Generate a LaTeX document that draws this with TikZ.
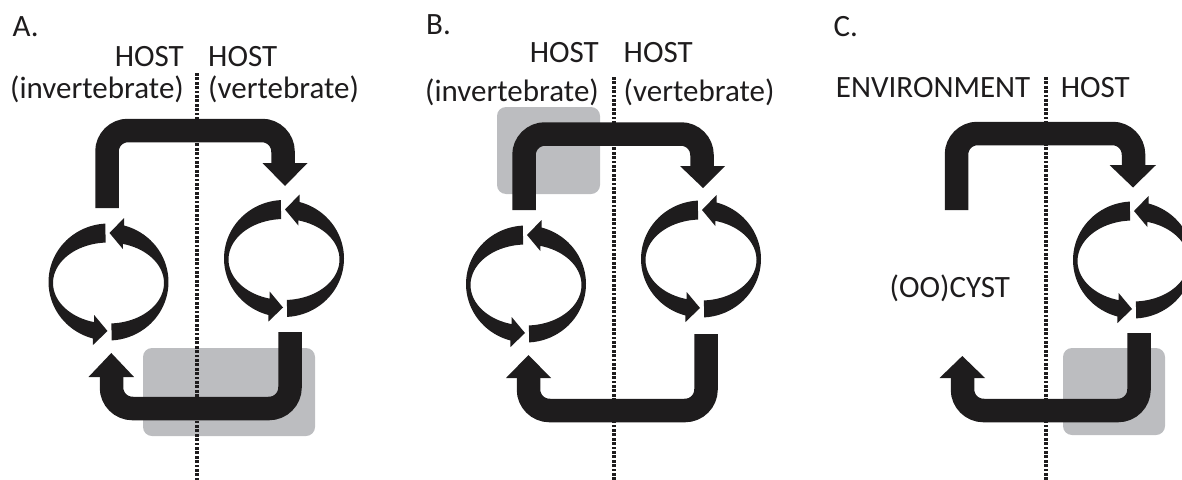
\documentclass[tikz,border=0pt]{standalone}
\usepackage{fontspec}
\setmainfont{Carlito}
\definecolor{boxgray}{RGB}{188,189,192}
\definecolor{ink}{RGB}{30,28,29}
\tikzset{
  lbl/.style={inner sep=0pt, text=ink, font=\fontsize{31}{36}\selectfont},
  bigarrow/.style={draw=ink, line width=23.5pt, rounded corners=21pt},
  headfill/.style={fill=ink},
  dotsq/.style={fill=ink},
  hilite/.style={fill=boxgray, rounded corners=9pt},
  cyc/.pic={
    % arrow running bottom -> right -> top (head at top, pointing left)
    \fill[ink] plot[domain=87:-75,samples=40] ({60*cos(\x)},{58.5*sin(\x)})
      -- ({60*cos(-75)},{-64})
      -- ({1},{-49})
      -- ({55.5*cos(-75)},{-33})
      -- plot[domain=-75:87,samples=40] ({55.5*cos(\x)},{40.5*sin(\x)+1})
      -- cycle;
    % arrow running top -> left -> bottom (head at bottom, pointing right)
    \fill[ink] plot[domain=-93:-255,samples=40] ({60*cos(\x)},{58.5*sin(\x)})
      -- ({60*cos(105)},{63})
      -- ({-1},{49})
      -- ({55.5*cos(105)},{33})
      -- plot[domain=-255:-93,samples=40] ({55.5*cos(\x)},{40.5*sin(\x)+1})
      -- cycle;
  },
  divider/.pic={
    \foreach \k in {0,...,95} {
      \fill[dotsq] (-1.6,{\k*4.4}) rectangle ++(3.2,2.8);
    }
  }
}
\begin{document}
\begin{tikzpicture}[x=1pt,y=-1pt]
\useasboundingbox (0,0) rectangle (1182,479);
\clip (0,0) rectangle (1182,479);

% ---------------- highlight boxes
\fill[hilite] (143,348) rectangle (315,436);
\fill[hilite] (497,107) rectangle (600,194);
\fill[hilite] (1063,348) rectangle (1165,435);

% ---------------- dotted dividers
\pic at (197,73) {divider};
\pic at (614,77) {divider};
\pic at (1046,77) {divider};

% ---------------- texts
\node[lbl, anchor=base west] (labA) at (12.5,36) {A.};
\node[lbl, anchor=base east] (hostAl) at (184,66) {HOST};
\node[lbl, anchor=base east] (invA) at (184,98) {(invertebrate)};
\node[lbl, anchor=base west] (hostAr) at (208,66) {HOST};
\node[lbl, anchor=base west] (vertA) at (208,98) {(vertebrate)};

\node[lbl, anchor=base west] (labB) at (426,34) {B.};
\node[lbl, anchor=base east] (hostBl) at (599,62) {HOST};
\node[lbl, anchor=base east] (invB) at (599,101) {(invertebrate)};
\node[lbl, anchor=base west] (hostBr) at (623.5,62) {HOST};
\node[lbl, anchor=base west] (vertB) at (623.5,101) {(vertebrate)};

\node[lbl, anchor=base west] (labC) at (833.5,36.5) {C.};
\node[lbl, anchor=base east] (envC) at (1030.5,97) {ENVIRONMENT};
\node[lbl, anchor=base west] (hostC) at (1060.6,97) {HOST};
\node[lbl, anchor=base west] (cystC) at (889.5,297) {(OO)CYST};

% ---------------- cycles
\pic at (108.5,282) {cyc};
\pic at (284,258.5) {cyc};
\pic at (526,284) {cyc};
\pic at (701,259) {cyc};
\pic at (1133,260) {cyc};

% ---------------- panel A arrows
\coordinate (aT0) at (107,208);
\coordinate (aT1) at (107,130.5);
\coordinate (aT2) at (283,130.5);
\coordinate (aT3) at (283,164);
\draw[bigarrow] (aT0) -- (aT1) -- (aT2) -- (aT3);
\fill[headfill] (262.5,163) -- (307.5,163) -- (285,186) -- cycle;

\coordinate (aB0) at (290,332);
\coordinate (aB1) at (290,408.5);
\coordinate (aB2) at (111.5,408.5);
\coordinate (aB3) at (111.5,376);
\draw[bigarrow] (aB0) -- (aB1) -- (aB2) -- (aB3);
\fill[headfill] (88.5,377) -- (134,377) -- (111.3,353) -- cycle;

% ---------------- panel B arrows
\coordinate (bT0) at (524,210);
\coordinate (bT1) at (524,134);
\coordinate (bT2) at (702,134);
\coordinate (bT3) at (702,167);
\draw[bigarrow] (bT0) -- (bT1) -- (bT2) -- (bT3);
\fill[headfill] (680,166) -- (725,166) -- (703,188) -- cycle;

\coordinate (bB0) at (706,334);
\coordinate (bB1) at (706,410.5);
\coordinate (bB2) at (528.5,410.5);
\coordinate (bB3) at (528.5,377);
\draw[bigarrow] (bB0) -- (bB1) -- (bB2) -- (bB3);
\fill[headfill] (506,378) -- (551,378) -- (528.5,355) -- cycle;

% ---------------- panel C arrows
\coordinate (cT0) at (956.5,210);
\coordinate (cT1) at (956.5,133.5);
\coordinate (cT2) at (1133.5,133.5);
\coordinate (cT3) at (1133.5,166);
\draw[bigarrow] (cT0) -- (cT1) -- (cT2) -- (cT3);
\fill[headfill] (1109.5,165) -- (1156,165) -- (1133,187.5) -- cycle;

\coordinate (cB0) at (1139,333);
\coordinate (cB1) at (1139,410.5);
\coordinate (cB2) at (962.5,410.5);
\coordinate (cB3) at (962.5,377);
\draw[bigarrow] (cB0) -- (cB1) -- (cB2) -- (cB3);
\fill[headfill] (939.5,378) -- (985,378) -- (962.3,356) -- cycle;
\end{tikzpicture}
\end{document}
